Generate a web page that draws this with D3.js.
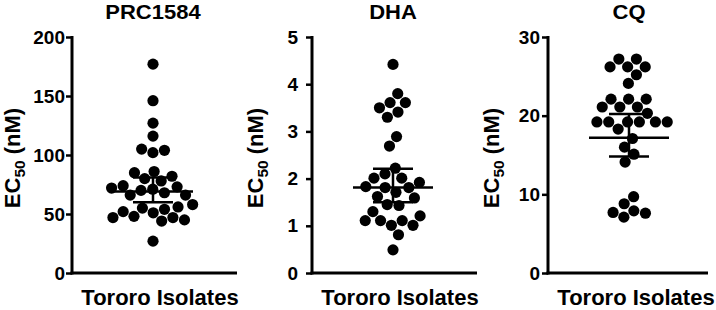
<!DOCTYPE html>
<html lang="en">
<head>
    <title>EC50 Tororo isolates</title>
    <script src='https://d3js.org/d3.v7.min.js'></script>
    <style>
        body { margin: 0; background: #fff; }
        text { font-family: "Liberation Sans", Arial, sans-serif; font-weight: bold; fill: #000; }
    </style>
</head>
<body>
    <script>
        var width = 716, height = 310;

        // chart data
        var drugs = ["PRC1584", "DHA", "CQ"];
        var yMax = [200, 5, 30];
        var yTicks = [[0, 50, 100, 150, 200], [0, 1, 2, 3, 4, 5], [0, 10, 20, 30]];
        var groupLabel = "Tororo Isolates";

        var prcValues = [177, 146, 127, 116, 105, 104, 102, 86, 85, 82, 80, 78, 74, 73, 72, 71, 70, 68,
                         66, 66, 58, 56, 55, 54, 52, 51, 48, 47, 47, 45, 44, 27];
        var dhaValues = [4.42, 3.80, 3.61, 3.61, 3.50, 3.41, 3.30, 2.89, 2.69, 2.22, 2.10, 2.01, 2.01, 1.92,
                         1.83, 1.81, 1.81, 1.71, 1.62, 1.59, 1.45, 1.43, 1.30, 1.21, 1.11, 1.11, 1.11,
                         1.01, 1.01, 0.81, 0.49];
        var cqValues = [27.2, 27.2, 26.2, 26.2, 26.2, 25.2, 24.1, 22.1, 22.1, 22.1, 21.1, 21.1, 21.1, 20.3,
                        19.2, 19.2, 19.2, 19.2, 19.2, 19.2, 18.3, 17.1, 16.0, 15.1, 14.1, 9.7, 8.8,
                        7.9, 7.7, 7.6, 7.1];

        // centre line and error bar ends
        var centres = [69, 1.81, 17.2];
        var lowers = [60, 1.50, 14.8];
        var uppers = [81, 2.21, 20.2];

        var allValues = [prcValues, dhaValues, cqValues];

        // layout of the three panels
        var axisLeft = [72, 312, 548];
        var axisLength = [165, 165, 160];
        var tickGap = [7, 14, 8];
        var labelX = [20, 263, 499];
        var yTop = 37, yBottom = 273, r = 5.6;

        var svg = d3.select('body')
            .append('svg')
            .attr('width', width)
            .attr('height', height);

        drugs.forEach(function(name, p) {
            var x0 = axisLeft[p];
            var cx = x0 + 81;
            var y = d3.scaleLinear().domain([0, yMax[p]]).range([yBottom, yTop]);
            var g = svg.append('g');

            // y axis
            var yAxis = d3.axisLeft(y)
                .tickValues(yTicks[p])
                .tickFormat(d3.format('~g'))
                .tickSize(6).tickSizeOuter(0)
                .tickPadding(tickGap[p] - 6);
            var ax = g.append('g').attr('transform', 'translate(' + x0 + ',0)').call(yAxis);
            ax.select('.domain').attr('stroke', '#000').attr('stroke-width', 3).attr('d', 'M0,' + (yTop - 1) + 'V' + (yBottom + 1.5));
            ax.selectAll('.tick line').attr('stroke', '#000').attr('stroke-width', 2.5);
            ax.selectAll('.tick text')
                .attr('font-size', 19)
                .attr('font-family', '"Liberation Sans", Arial, sans-serif')
                .attr('font-weight', 'bold')
                .attr('fill', '#000');

            // x axis line
            g.append('line')
                .attr('x1', x0 - 1.5).attr('x2', x0 + axisLength[p])
                .attr('y1', yBottom).attr('y2', yBottom)
                .attr('stroke', '#000').attr('stroke-width', 3);

            // title
            g.append('text')
                .attr('transform', 'translate(' + cx + ',18.5) scale(1.1,1)')
                .attr('text-anchor', 'middle')
                .attr('font-size', 20)
                .text(name);

            // y label with subscript
            var yl = g.append('text')
                .attr('transform', 'translate(' + labelX[p] + ',158) rotate(-90)')
                .attr('text-anchor', 'middle')
                .attr('font-size', 22);
            yl.append('tspan').text('EC');
            yl.append('tspan').attr('font-size', 15.5).attr('dy', 5).text('50');
            yl.append('tspan').attr('dy', -5).text(' (nM)');

            // x label
            g.append('text')
                .attr('x', x0 + 88).attr('y', 305)
                .attr('text-anchor', 'middle')
                .attr('font-size', 22)
                .text(groupLabel);

            // beeswarm: y fixed by value, x pushed apart
            var nodes = allValues[p].map(function(v, i) {
                return { v: v, fy: y(v), x: cx + (i % 2 ? 1 : -1) * (i % 5) * 0.7 };
            });
            var simulation = d3.forceSimulation(nodes)
                .force('x', d3.forceX(cx).strength(0.2))
                .force('collide', d3.forceCollide(r + 0.3).iterations(3))
                .stop();
            for (var k = 0; k < 400; k++) simulation.tick();

            g.selectAll('circle')
                .data(nodes)
                .join('circle')
                .attr('cx', function(d) { return d.x; })
                .attr('cy', function(d) { return d.fy; })
                .attr('r', r)
                .style('fill', '#000');

            // centre line and error bars
            var bars = [
                { v: centres[p], half: 40 },
                { v: uppers[p], half: 20 },
                { v: lowers[p], half: 20 }
            ];
            g.selectAll('line.bar')
                .data(bars)
                .join('line')
                .attr('class', 'bar')
                .attr('x1', function(d) { return cx - d.half; })
                .attr('x2', function(d) { return cx + d.half; })
                .attr('y1', function(d) { return y(d.v); })
                .attr('y2', function(d) { return y(d.v); })
                .attr('stroke', '#000')
                .attr('stroke-width', 2.5);
            g.append('line')
                .attr('x1', cx).attr('x2', cx)
                .attr('y1', y(uppers[p])).attr('y2', y(lowers[p]))
                .attr('stroke', '#000').attr('stroke-width', 2.5);
        });
    </script>
</body>
</html>
